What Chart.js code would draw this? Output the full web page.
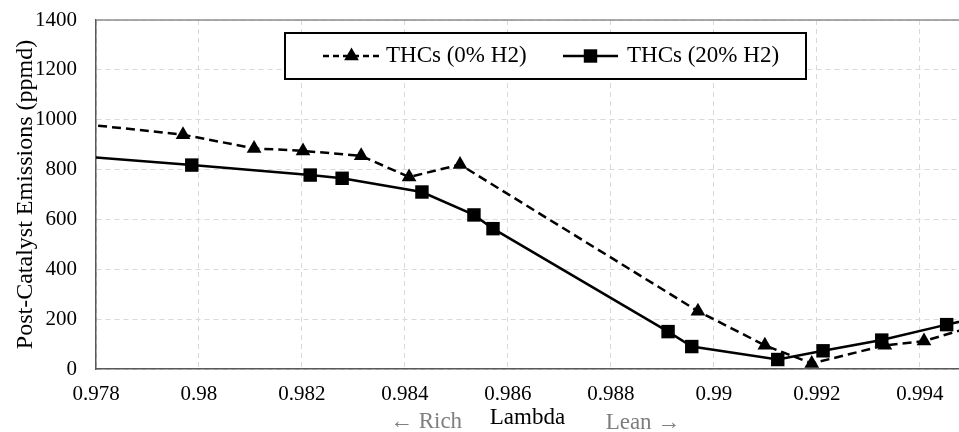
<!DOCTYPE html>
<html lang="en">
<head>
  <meta charset="UTF-8">
  <title>THCs vs Lambda</title>
  <script src="https://cdn.jsdelivr.net/npm/chart.js"></script>
  <style>
    * { margin: 0; padding: 0; box-sizing: border-box; }
    body { background: #fff; overflow: hidden; }
    .chart-wrap { width: 959px; height: 432px; position: relative; }
  </style>
</head>
<body>
  <div class="chart-wrap">
    <canvas id="thcChart"></canvas>
  </div>

  <script>
    // THCs without hydrogen (first and last points sit just outside the axis range)
    const lambda0 = [0.9775, 0.97969, 0.98107, 0.98202, 0.98315, 0.98408, 0.98507, 0.98969, 0.99099, 0.99190, 0.99332, 0.99408, 0.9950];
    const thc0 = [988, 940, 885, 875, 855, 770, 820, 232, 95, 22, 95, 112, 168];

    // THCs with 20% hydrogen
    const lambda20 = [0.9775, 0.97986, 0.98216, 0.98278, 0.98433, 0.98534, 0.98571, 0.98911, 0.98957, 0.99124, 0.99212, 0.99326, 0.99452, 0.9950];
    const thc20 = [856, 818, 778, 765, 710, 618, 563, 150, 90, 38, 73, 116, 178, 200];

    const seriesLabels = ['THCs (0% H2)', 'THCs (20% H2)'];
    const xTicks = [0.978, 0.98, 0.982, 0.984, 0.986, 0.988, 0.99, 0.992, 0.994];
    const yTicks = [0, 200, 400, 600, 800, 1000, 1200, 1400];

    const toPoints = (xs, ys) => xs.map((x, i) => ({ x: x, y: ys[i] }));

    Chart.defaults.font.family = "'Liberation Serif', 'Times New Roman', serif";
    Chart.defaults.color = '#000';

    // Boxed legend with dashed/solid line samples, plus the rich/lean hints under the axis
    const extrasPlugin = {
      id: 'extras',
      afterDraw(chart) {
        const ctx = chart.ctx;
        const area = chart.chartArea;
        ctx.save();

        // top frame line
        ctx.strokeStyle = '#8c8c8c';
        ctx.lineWidth = 1.5;
        ctx.beginPath();
        ctx.moveTo(area.left, area.top);
        ctx.lineTo(area.right, area.top);
        ctx.stroke();

        // legend box
        ctx.fillStyle = '#fff';
        ctx.fillRect(285, 33, 521, 46);
        ctx.strokeStyle = '#000';
        ctx.lineWidth = 2;
        ctx.strokeRect(285, 33, 521, 46);

        const items = [
          { x1: 323, x2: 380, text: 386, dash: [6, 4], ds: chart.data.datasets[0] },
          { x1: 563, x2: 618, text: 627, dash: [], ds: chart.data.datasets[1] }
        ];
        const ly = 56;
        items.forEach(it => {
          ctx.strokeStyle = '#000';
          ctx.fillStyle = '#000';
          ctx.lineWidth = 2.5;
          ctx.setLineDash(it.dash);
          ctx.beginPath();
          ctx.moveTo(it.x1, ly);
          ctx.lineTo(it.x2, ly);
          ctx.stroke();
          ctx.setLineDash([]);
          Chart.helpers.drawPoint(ctx, {
            pointStyle: it.ds.pointStyle,
            radius: it.ds.pointRadius,
            rotation: 0,
            borderWidth: 0
          }, (it.x1 + it.x2) / 2, ly);
          ctx.font = "23px 'Liberation Serif', serif";
          ctx.textBaseline = 'middle';
          ctx.textAlign = 'left';
          ctx.fillText(it.ds.label, it.text, ly);
        });

        // direction hints
        ctx.fillStyle = '#7f7f7f';
        ctx.font = "23px 'Liberation Serif', serif";
        ctx.textBaseline = 'alphabetic';
        ctx.textAlign = 'center';
        ctx.fillText('\u2190 Rich', 426, 428);
        ctx.fillText('Lean \u2192', 643, 429);
        ctx.restore();
      }
    };

    const ctx = document.getElementById('thcChart').getContext('2d');
    new Chart(ctx, {
      type: 'line',
      data: {
        datasets: [
          {
            label: seriesLabels[0],
            data: toPoints(lambda0, thc0),
            borderColor: '#000',
            backgroundColor: '#000',
            borderWidth: 2.5,
            borderDash: [9, 5],
            pointStyle: 'triangle',
            pointRadius: 8.5,
            pointBorderWidth: 0,
            pointBackgroundColor: '#000',
            tension: 0
          },
          {
            label: seriesLabels[1],
            data: toPoints(lambda20, thc20),
            borderColor: '#000',
            backgroundColor: '#000',
            borderWidth: 2.5,
            pointStyle: 'rect',
            pointRadius: 9.5,
            pointBorderWidth: 0,
            pointBackgroundColor: '#000',
            tension: 0
          }
        ]
      },
      options: {
        responsive: true,
        maintainAspectRatio: false,
        animation: false,
        layout: { autoPadding: false, padding: { top: 20, right: 0, bottom: 0, left: 0 } },
        plugins: {
          legend: { display: false },
          tooltip: { enabled: false }
        },
        scales: {
          x: {
            type: 'linear',
            min: 0.978,
            max: 0.99476,
            afterBuildTicks(scale) {
              scale.ticks = xTicks.map(v => ({ value: v }));
            },
            afterFit(scale) {
              scale.height = 63;
              scale.paddingLeft = 0;
              scale.paddingRight = 0;
            },
            ticks: {
              font: { size: 21 },
              padding: 13,
              maxRotation: 0,
              callback: v => String(parseFloat(v.toFixed(3)))
            },
            grid: { color: '#d9d9d9', lineWidth: 1, drawTicks: false },
            border: { color: '#595959', width: 1.5, dash: [5, 4] },
            title: {
              display: true,
              text: 'Lambda',
              font: { size: 23 },
              padding: { top: 0, bottom: 0 }
            }
          },
          y: {
            min: 0,
            max: 1400,
            afterBuildTicks(scale) {
              scale.ticks = yTicks.map(v => ({ value: v }));
            },
            afterFit(scale) {
              scale.width = 96;
              scale.paddingTop = 0;
              scale.paddingBottom = 0;
            },
            ticks: { font: { size: 21 }, padding: 19, callback: v => String(v) },
            grid: { color: '#d9d9d9', lineWidth: 1, drawTicks: false },
            border: { color: '#595959', width: 1.5, dash: [5, 4] },
            title: {
              display: true,
              text: 'Post-Catalyst Emissions (ppmd)',
              font: { size: 24 },
              padding: { top: 11, bottom: 0 }
            }
          }
        }
      },
      plugins: [extrasPlugin]
    });
  </script>
</body>
</html>
